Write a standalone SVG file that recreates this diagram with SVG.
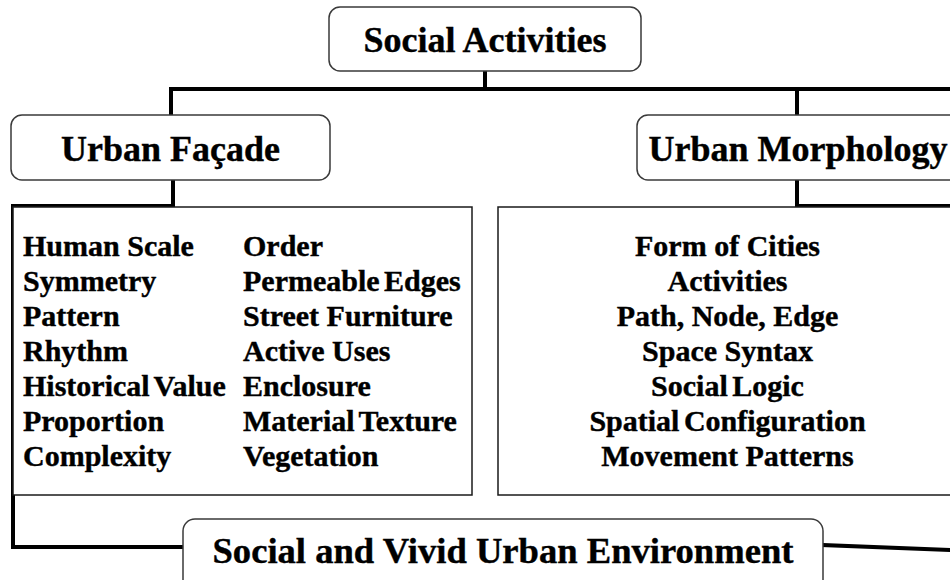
<svg xmlns="http://www.w3.org/2000/svg" width="950" height="580" viewBox="0 0 950 580">
  <style>
    .bg { fill: #ffffff; }
    .head { fill: #ffffff; stroke: #3a3a3a; stroke-width: 1.5; }
    .panel { fill: #ffffff; stroke: #1a1a1a; stroke-width: 1.5; }
    .link { fill: none; stroke: #000000; stroke-width: 4; stroke-linejoin: miter; stroke-linecap: square; }
    .title { font-family: "Liberation Serif", "Times New Roman", serif; font-weight: bold; font-size: 36px; fill: #000000; stroke: #000000; stroke-width: 0.4; text-anchor: middle; }
    .item { font-family: "Liberation Serif", "Times New Roman", serif; font-weight: bold; font-size: 30px; fill: #000000; stroke: #000000; stroke-width: 0.4; }
    .mid { text-anchor: middle; }
  </style>
  <rect class="bg" x="0" y="0" width="950" height="580"/>

  <!-- connectors -->
  <g id="connectors">
    <path class="link" d="M485,71 V89"/>
    <path class="link" d="M171,115 V89 H950"/>
    <path class="link" d="M797,89 V115"/>
    <path class="link" d="M797,180 V206 H950"/>
    <path class="link" d="M173,180 V206 H13 V547 H183"/>
    <path class="link" d="M823,545 L952,550" stroke-linecap="butt"/>
  </g>

  <!-- root -->
  <g id="social-activities">
    <rect class="head" x="329" y="7" width="312" height="64" rx="11"/>
    <text class="title" x="485" y="52">Social Activities</text>
  </g>

  <g id="urban-facade">
    <rect class="head" x="11" y="115" width="319" height="65" rx="11"/>
    <text class="title" x="170.5" y="161">Urban Façade</text>
  </g>

  <g id="urban-morphology">
    <rect class="head" x="637" y="115" width="330" height="65" rx="11"/>
    <text class="title" x="798" y="161">Urban Morphology</text>
  </g>

  <!-- façade qualities -->
  <g id="facade-list">
    <rect class="panel" x="13" y="207" width="459" height="288"/>
    <text class="item" x="23" y="256">Human Scale</text>
    <text class="item" x="23" y="291">Symmetry</text>
    <text class="item" x="23" y="326">Pattern</text>
    <text class="item" x="23" y="361">Rhythm</text>
    <text class="item" x="23" y="396" word-spacing="-3">Historical Value</text>
    <text class="item" x="23" y="431">Proportion</text>
    <text class="item" x="23" y="466">Complexity</text>
    <text class="item" x="243" y="256">Order</text>
    <text class="item" x="243" y="291" word-spacing="-3">Permeable Edges</text>
    <text class="item" x="243" y="326">Street Furniture</text>
    <text class="item" x="243" y="361">Active Uses</text>
    <text class="item" x="243" y="396">Enclosure</text>
    <text class="item" x="243" y="431" word-spacing="-3">Material Texture</text>
    <text class="item" x="243" y="466">Vegetation</text>
  </g>

  <!-- morphology topics -->
  <g id="morphology-list">
    <rect class="panel" x="498" y="207" width="470" height="288"/>
    <text class="item mid" x="727.5" y="256">Form of Cities</text>
    <text class="item mid" x="727.5" y="291">Activities</text>
    <text class="item mid" x="727.5" y="326">Path, Node, Edge</text>
    <text class="item mid" x="727.5" y="361">Space Syntax</text>
    <text class="item mid" x="727.5" y="396" word-spacing="-3">Social Logic</text>
    <text class="item mid" x="727.5" y="431" word-spacing="-3">Spatial Configuration</text>
    <text class="item mid" x="727.5" y="466">Movement Patterns</text>
  </g>

  <!-- outcome -->
  <g id="vivid-environment">
    <rect class="head" x="183" y="519" width="640" height="80" rx="12"/>
    <text class="title" x="503" y="563" textLength="581" lengthAdjust="spacingAndGlyphs">Social and Vivid Urban Environment</text>
  </g>
</svg>
